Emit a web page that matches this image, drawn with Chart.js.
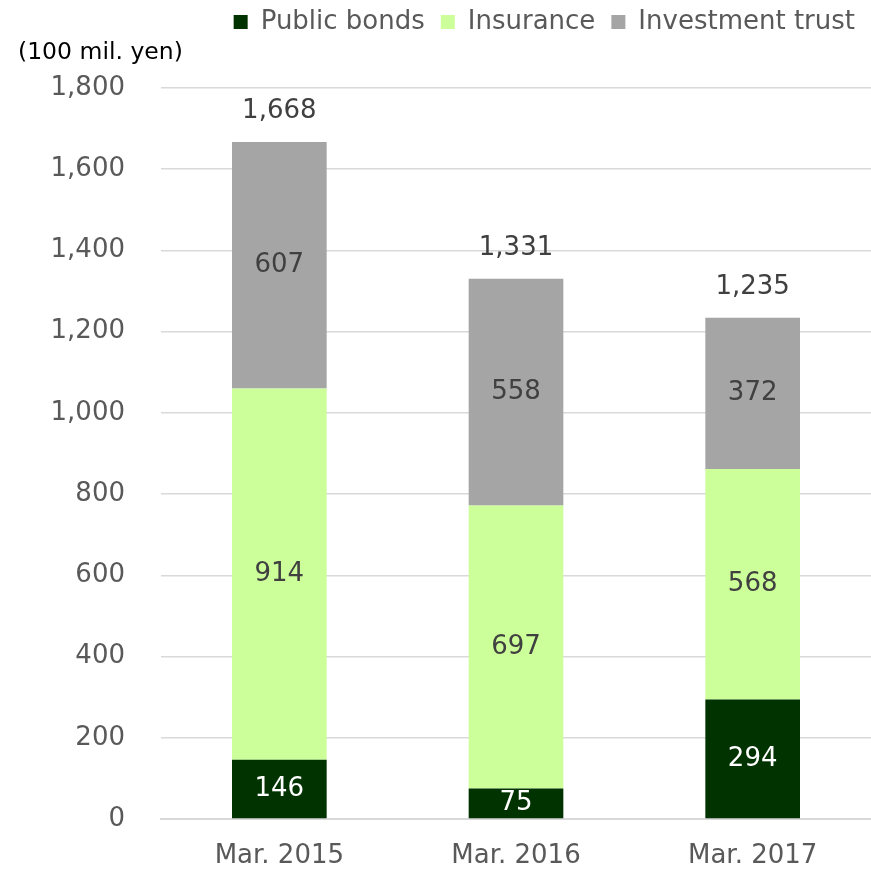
<!DOCTYPE html>
<html>
<head>
<meta charset="utf-8">
<script src="https://cdn.jsdelivr.net/npm/chart.js@4.4.1/dist/chart.umd.min.js"></script>
<style>
  html, body { margin: 0; padding: 0; background: #fff; }
  #wrap { width: 871px; height: 871px; }
</style>
</head>
<body>
<div id="wrap"><canvas id="chart" width="871" height="871"></canvas></div>
<script>
  // values in 100 mil. yen
  var categories = ["Mar. 2015", "Mar. 2016", "Mar. 2017"];
  var publicBonds = [146, 75, 294];
  var insurance = [914, 697, 568];
  var investmentTrust = [607, 558, 372];
  var totals = [1668, 1331, 1235];
  var unitLabel = "(100 mil. yen)";

  var textColor = "#595959";
  var fontName = "'DejaVu Sans', Verdana, sans-serif";

  // numbers inside the segments and totals above the stacks
  var labelPlugin = {
    id: "labels",
    afterDatasetsDraw: function (chart) {
      var ctx = chart.ctx;
      ctx.save();
      ctx.textAlign = "center";
      ctx.textBaseline = "middle";
      ctx.font = "26px " + fontName;
      chart.data.datasets.forEach(function (ds, i) {
        var meta = chart.getDatasetMeta(i);
        meta.data.forEach(function (bar, j) {
          var mid = (bar.y + bar.base) / 2;
          ctx.fillStyle = i == 0 ? "#ffffff" : "#404040";
          ctx.fillText(ds.data[j].toLocaleString("en-US"), bar.x, mid);
        });
      });
      var top = chart.getDatasetMeta(2);
      var y = chart.scales.y;
      ctx.fillStyle = "#404040";
      top.data.forEach(function (bar, j) {
        ctx.fillText(totals[j].toLocaleString("en-US"), bar.x, y.getPixelForValue(totals[j]) - 30);
      });
      ctx.textAlign = "left";
      ctx.fillStyle = "#000000";
      ctx.font = "23.5px " + fontName;
      ctx.fillText(unitLabel, 18, 53);
      ctx.restore();
    }
  };

  var ctx = document.getElementById("chart").getContext("2d");
  new Chart(ctx, {
    type: "bar",
    data: {
      labels: categories,
      datasets: [
        {
          label: "Public bonds",
          data: publicBonds,
          backgroundColor: "#003300"
        },
        {
          label: "Insurance",
          data: insurance,
          backgroundColor: "#ccff99"
        },
        {
          label: "Investment trust",
          data: investmentTrust,
          backgroundColor: "#a5a5a5"
        }
      ]
    },
    options: {
      responsive: false,
      animation: false,
      categoryPercentage: 1,
      barPercentage: 0.4,
      layout: {
        padding: { top: -7, right: 0, bottom: 0, left: 0 }
      },
      plugins: {
        legend: {
          position: "top",
          align: "end",
          labels: {
            boxWidth: 14,
            boxHeight: 14,
            padding: 16,
            color: textColor,
            font: { family: fontName, size: 26 }
          }
        },
        tooltip: { enabled: false }
      },
      scales: {
        x: {
          stacked: true,
          afterFit: function (scale) {
            scale.height = 52;
          },
          grid: { display: false, drawTicks: false },
          border: { color: "#d9d9d9", width: 2 },
          ticks: {
            color: textColor,
            padding: 22,
            maxRotation: 0,
            font: { family: fontName, size: 26 }
          }
        },
        // empty top axis, only keeps room for the unit label
        spacer: {
          type: "category",
          position: "top",
          labels: categories,
          grid: { display: false, drawTicks: false },
          border: { display: false },
          ticks: { display: false },
          afterFit: function (scale) {
            scale.height = 43;
          }
        },
        y: {
          stacked: true,
          min: 0,
          max: 1800,
          afterFit: function (scale) {
            scale.width = 161;
          },
          grid: { color: "#d9d9d9", lineWidth: 1.5, drawTicks: false },
          border: { display: false },
          ticks: {
            stepSize: 200,
            padding: 36,
            color: textColor,
            font: { family: fontName, size: 26 },
            callback: function (v) {
              return v.toLocaleString("en-US");
            }
          }
        }
      }
    },
    plugins: [labelPlugin]
  });
</script>
</body>
</html>
